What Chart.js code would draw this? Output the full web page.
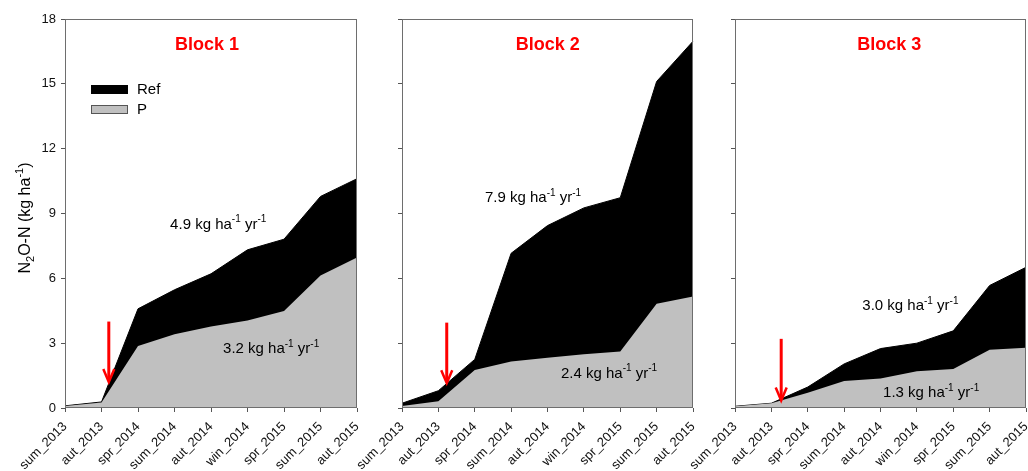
<!DOCTYPE html>
<html>
<head>
<meta charset="utf-8">
<script src="https://cdn.jsdelivr.net/npm/chart.js@4.4.1/dist/chart.umd.min.js"></script>
<style>
  html, body { margin: 0; padding: 0; background: #fff; }
  #wrap { position: relative; width: 1028px; height: 471px; overflow: hidden; }
  canvas { position: absolute; top: 0; }
</style>
</head>
<body>
<div id="wrap">
  <canvas id="c1" style="left:0px" width="370" height="471"></canvas>
  <canvas id="c2" style="left:340px" width="365" height="471"></canvas>
  <canvas id="c3" style="left:680px" width="348" height="471"></canvas>
</div>
<script>
var FONT = '"Liberation Sans", Arial, sans-serif';

var seasons = ['sum_2013', 'aut_2013', 'spr_2014', 'sum_2014', 'aut_2014',
  'win_2014', 'spr_2015', 'sum_2015', 'aut_2015'];
var yTicks = [0, 3, 6, 9, 12, 15, 18];

// cumulative N2O-N, kg ha-1
var ref1 = [0.10, 0.28, 4.59, 5.47, 6.21, 7.32, 7.81, 9.79, 10.61];
var p1   = [0.09, 0.26, 2.87, 3.41, 3.77, 4.05, 4.49, 6.13, 6.96];
var ref2 = [0.22, 0.80, 2.25, 7.16, 8.44, 9.26, 9.73, 15.11, 16.97];
var p2   = [0.09, 0.31, 1.76, 2.15, 2.32, 2.49, 2.62, 4.82, 5.16];
var ref3 = [0.08, 0.22, 0.97, 2.04, 2.75, 3.00, 3.57, 5.67, 6.51];
var p3   = [0.08, 0.22, 0.71, 1.25, 1.36, 1.70, 1.81, 2.69, 2.79];

var blockNames = ['Block 1', 'Block 2', 'Block 3'];
var refRates = ['4.9', '7.9', '3.0'];
var pRates = ['3.2', '2.4', '1.3'];

// layout of each panel (pixels / positions in axis units)
var panels = [
  { id: 'c1', ref: ref1, p: p1, yLabels: true, legend: true, axisW: 65, padR: 13,
    titleX: 3.89, refTxt: [2.88, 8.3], pTxt: [4.33, 2.53], arrow: [1.2, 4.0, 1.2] },
  { id: 'c2', ref: ref2, p: p2, yLabels: false, legend: false, axisW: 62, padR: 12,
    titleX: 4.01, refTxt: [2.28, 9.52], pTxt: [4.37, 1.41], arrow: [1.23, 3.95, 1.15] },
  { id: 'c3', ref: ref3, p: p3, yLabels: false, legend: false, axisW: 55, padR: 2,
    titleX: 4.24, refTxt: [3.5, 4.52], pTxt: [4.07, 0.49], arrow: [1.27, 3.2, 0.35] }
];

function drawRich(ctx, parts, x, y, size, align) {
  var total = 0;
  parts.forEach(function (p) {
    p.size = (p.sup || p.sub) ? Math.round(size * 0.68) : size;
    ctx.font = p.size + 'px ' + FONT;
    p.w = ctx.measureText(p.t).width;
    total += p.w;
  });
  var cx = align === 'center' ? x - total / 2 : x;
  ctx.textAlign = 'left';
  ctx.textBaseline = 'alphabetic';
  parts.forEach(function (p) {
    var dy = p.sup ? -size * 0.42 : (p.sub ? size * 0.28 : 0);
    ctx.font = p.size + 'px ' + FONT;
    ctx.fillText(p.t, cx, y + dy);
    cx += p.w;
  });
}

function rateParts(v) {
  return [{ t: v + ' kg ha' }, { t: '-1', sup: true }, { t: ' yr' }, { t: '-1', sup: true }];
}

var decoPlugin = {
  id: 'panelDeco',
  afterDatasetsDraw: function (chart, args, cfg) {
    var ctx = chart.ctx, a = chart.chartArea;
    var xs = chart.scales.x, ys = chart.scales.y;
    ctx.save();
    // frame
    ctx.strokeStyle = '#6e6e6e';
    ctx.lineWidth = 1;
    ctx.strokeRect(Math.round(a.left) + 0.5, Math.round(a.top) + 0.5,
      Math.round(a.right - a.left) - 1, Math.round(a.bottom - a.top) - 1);

    // title
    ctx.fillStyle = '#ff0000';
    ctx.font = 'bold 18px ' + FONT;
    ctx.textAlign = 'center';
    ctx.textBaseline = 'alphabetic';
    ctx.fillText(cfg.name, xs.getPixelForValue(cfg.titleX), ys.getPixelForValue(16.55));

    // rate labels
    ctx.fillStyle = '#000';
    drawRich(ctx, rateParts(cfg.refRate), xs.getPixelForValue(cfg.refTxt[0]), ys.getPixelForValue(cfg.refTxt[1]), 15, 'left');
    drawRich(ctx, rateParts(cfg.pRate), xs.getPixelForValue(cfg.pTxt[0]), ys.getPixelForValue(cfg.pTxt[1]), 15, 'left');

    // red arrow
    var ax = xs.getPixelForValue(cfg.arrow[0]);
    var top = ys.getPixelForValue(cfg.arrow[1]);
    var tip = ys.getPixelForValue(cfg.arrow[2]);
    ctx.strokeStyle = '#ff0000';
    ctx.lineWidth = 3;
    ctx.beginPath();
    ctx.moveTo(ax, top);
    ctx.lineTo(ax, tip - 1);
    ctx.stroke();
    ctx.lineWidth = 2.5;
    ctx.beginPath();
    ctx.moveTo(ax - 5.5, tip - 13);
    ctx.lineTo(ax, tip);
    ctx.lineTo(ax + 5.5, tip - 13);
    ctx.stroke();

    // legend (first panel only)
    if (cfg.legend) {
      var ds = chart.data.datasets;
      var lx = a.left + 26, ly = a.top + 66;
      ctx.fillStyle = ds[0].backgroundColor;
      ctx.fillRect(lx, ly, 37, 9);
      ctx.fillStyle = ds[1].backgroundColor;
      ctx.fillRect(lx, ly + 20, 37, 9);
      ctx.strokeStyle = '#555';
      ctx.lineWidth = 1;
      ctx.strokeRect(lx + 0.5, ly + 20.5, 36, 8);
      ctx.fillStyle = '#000';
      ctx.font = '15px ' + FONT;
      ctx.textAlign = 'left';
      ctx.textBaseline = 'middle';
      ctx.fillText(ds[0].label, lx + 46, ly + 5);
      ctx.fillText(ds[1].label, lx + 46, ly + 25);
    }

    // y-axis title
    if (cfg.yLabels) {
      ctx.save();
      ctx.translate(30, 218);
      ctx.rotate(-Math.PI / 2);
      ctx.fillStyle = '#000';
      drawRich(ctx, [{ t: 'N' }, { t: '2', sub: true }, { t: 'O-N (kg ha' }, { t: '-1', sup: true }, { t: ')' }], 0, 0, 16, 'center');
      ctx.restore();
    }
    ctx.restore();
  }
};

function makePanel(cfg, i) {
  cfg.name = blockNames[i];
  cfg.refRate = refRates[i];
  cfg.pRate = pRates[i];
  return new Chart(document.getElementById(cfg.id), {
    type: 'line',
    data: {
      labels: seasons,
      datasets: [
        { label: 'Ref', data: cfg.ref, order: 2, fill: 'origin',
          backgroundColor: '#000000', borderColor: '#000000', borderWidth: 1 },
        { label: 'P', data: cfg.p, order: 1, fill: 'origin',
          backgroundColor: '#c0c0c0', borderColor: '#c0c0c0', borderWidth: 0 }
      ]
    },
    options: {
      responsive: false,
      animation: false,
      layout: { padding: { top: 19, right: cfg.padR, left: 0, bottom: 0 } },
      elements: { point: { radius: 0 }, line: { tension: 0 } },
      plugins: { legend: { display: false }, tooltip: { enabled: false }, panelDeco: cfg },
      scales: {
        x: {
          offset: false,
          grid: { drawOnChartArea: false, drawTicks: true, tickLength: 4, tickColor: '#555' },
          border: { display: false },
          ticks: { autoSkip: false, maxRotation: 45, minRotation: 45, padding: 7,
            color: '#111', font: { family: FONT, size: 13 } },
          afterFit: function (s) { s.height = 63; s.paddingLeft = 0; s.paddingRight = 0; }
        },
        y: {
          min: 0, max: 18,
          afterBuildTicks: function (s) { s.ticks = yTicks.map(function (v) { return { value: v }; }); },
          grid: { drawOnChartArea: false, drawTicks: true, tickLength: 4, tickColor: '#555' },
          border: { display: false },
          ticks: { display: cfg.yLabels, padding: 5, color: '#111', font: { family: FONT, size: 13 } },
          afterFit: function (s) { s.width = cfg.axisW; s.paddingTop = 0; s.paddingBottom = 0; }
        }
      }
    },
    plugins: [decoPlugin]
  });
}

panels.forEach(makePanel);
</script>
</body>
</html>
